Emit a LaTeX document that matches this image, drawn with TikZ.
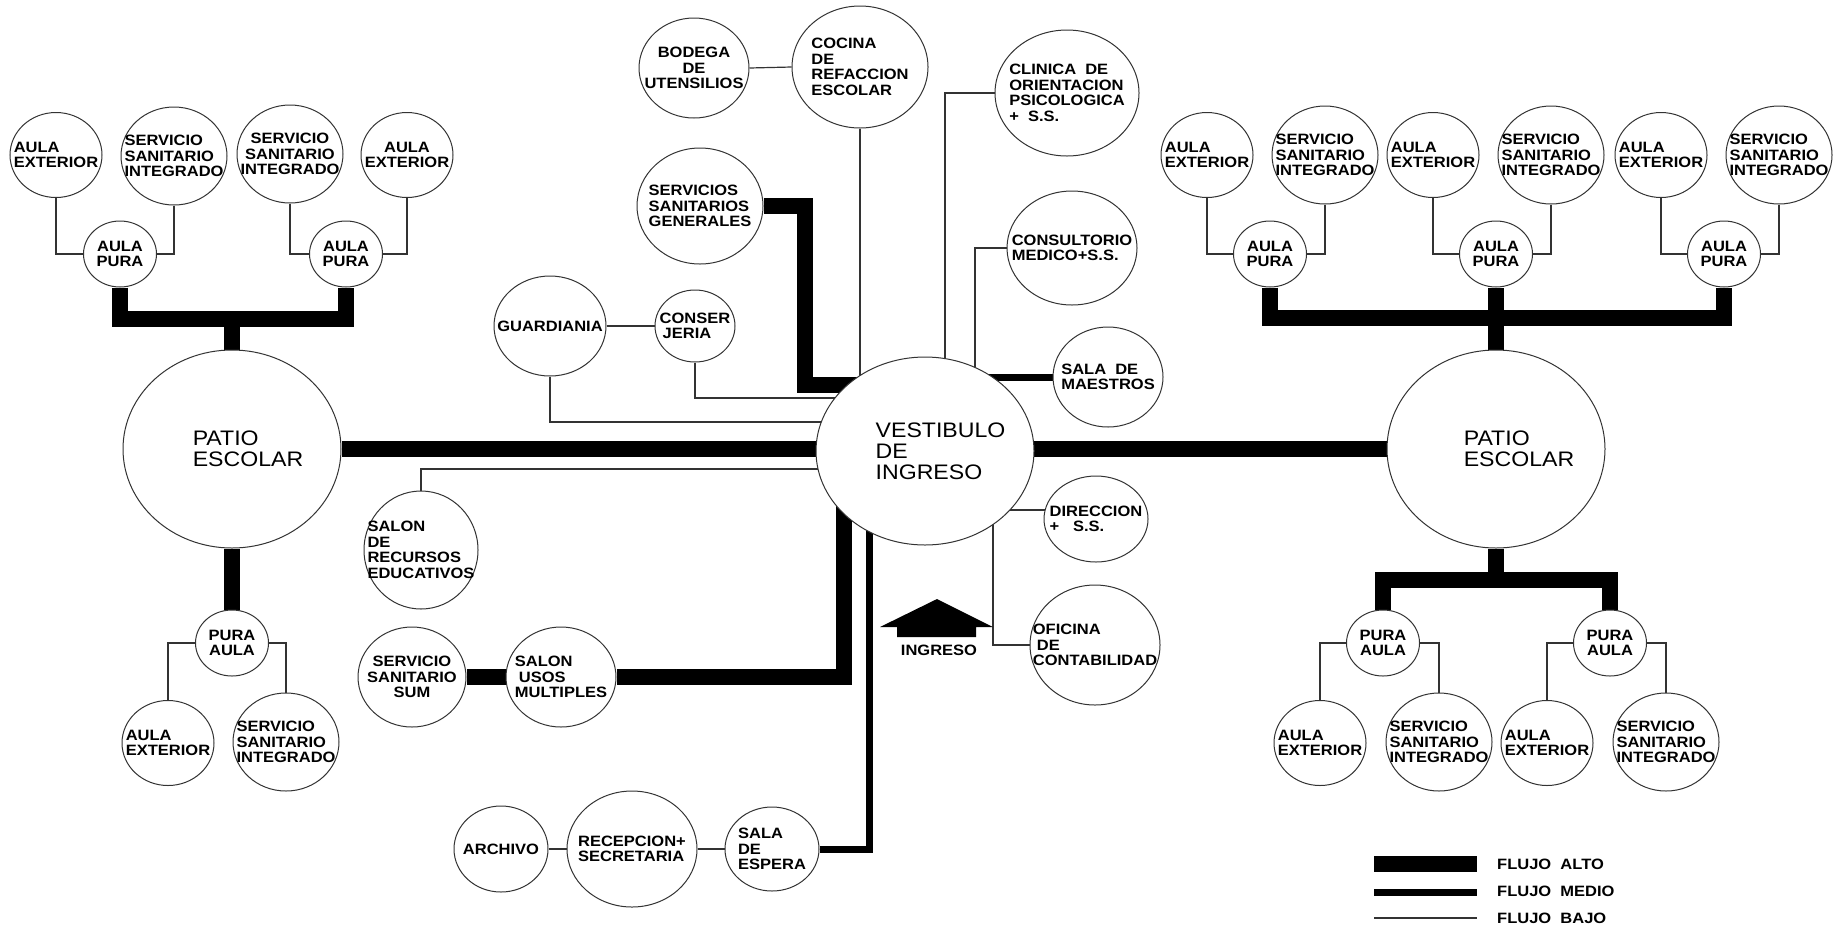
\documentclass[tikz,border=0pt]{standalone}
\usepackage{fontspec}
\newfontfamily\cadfont{Liberation Sans}[FakeStretch=1.1]
\usetikzlibrary{shapes.geometric}
\usetikzlibrary{backgrounds}

\tikzset{
   room/.style 2 args={
      ellipse, draw=black!80, line width=1pt, fill=white,
      inner sep=-40pt, minimum width=#1, minimum height=#2,
      align=center,
      font=\cadfont\bfseries\fontsize{15}{15.5}\selectfont
   },
   ext/.style={room={92}{85}, align=left},
   sani/.style={room={106}{98}},
   pura/.style={room={73}{66}},
   patio/.style={room={218}{198}, align=left, font=\cadfont\fontsize{21}{21}\selectfont},
   alto/.style={line width=16pt},
   medio/.style={line width=7pt},
   bajo/.style={draw=black!80, line width=1.2pt},
   rotulo/.style={inner sep=0pt, font=\cadfont\bfseries\fontsize{15}{15.5}\selectfont}
}

\begin{document}
\begin{tikzpicture}[x=1pt, y=-1pt]
   \path[use as bounding box] (0,0) rectangle (1843,930);

   \node[room={218}{188}, align=left, font=\cadfont\fontsize{21}{21}\selectfont] (vest) at (925,451)
      {\hspace*{31pt}VESTIBULO\\\hspace*{31pt}DE\\\hspace*{31pt}INGRESO};
   \node[patio] (patioL) at (232,449) {\hspace*{32pt}PATIO\\\hspace*{32pt}ESCOLAR};
   \node[patio] (patioR) at (1496,449) {\hspace*{46pt}PATIO\\\hspace*{46pt}ESCOLAR};

   % aulas del patio izquierdo
   \node[ext] (exL1) at (56,155) {AULA\\EXTERIOR};
   \node[sani, align=left] (ssL1) at (174,156) {SERVICIO\\SANITARIO\\INTEGRADO};
   \node[sani] (ssL2) at (290,154) {SERVICIO\\SANITARIO\\INTEGRADO};
   \node[ext, align=center] (exL2) at (407,155) {AULA\\EXTERIOR};
   \node[pura] (apL1) at (120,254) {AULA\\PURA};
   \node[pura] (apL2) at (346,254) {AULA\\PURA};
   \node[pura] (puraL) at (232,643) {PURA\\AULA};
   \node[ext] (exLB) at (168,743) {AULA\\EXTERIOR};
   \node[sani, align=left] (ssLB) at (286,742) {SERVICIO\\SANITARIO\\INTEGRADO};

   % aulas del patio derecho
   \foreach \n/\cx in {1/1270, 2/1496, 3/1724} {
      \node[pura] (apR\n) at (\cx,254) {AULA\\PURA};
      \node[ext] (exR\n) at ({\cx-63},155) {AULA\\EXTERIOR};
      \node[sani, align=left] (ssR\n) at ({\cx+55},155) {SERVICIO\\SANITARIO\\INTEGRADO};
   }
   \foreach \n/\cx in {1/1383, 2/1610} {
      \node[pura] (puraR\n) at (\cx,643) {PURA\\AULA};
      \node[ext] (exRB\n) at ({\cx-63},743) {AULA\\EXTERIOR};
      \node[sani, align=left] (ssRB\n) at ({\cx+56},742) {SERVICIO\\SANITARIO\\INTEGRADO};
   }

   % locales alrededor del vestibulo
   \node[room={110}{100}] (bod) at (694,68) {BODEGA\\DE\\UTENSILIOS};
   \node[room={136}{122}, align=left] (coc) at (860,67) {COCINA\\DE\\REFACCION\\ESCOLAR};
   \node[room={126}{116}, align=left] (sanG) at (700,206) {SERVICIOS\\SANITARIOS\\GENERALES};
   \node[room={112}{100}] (guar) at (550,326) {GUARDIANIA};
   \node[room={80}{72}, align=left] (conj) at (695,326) {CONSER\\\hspace*{3pt}JERIA};
   \node[room={144}{126}, align=left] (clin) at (1067,93) {CLINICA\ \ DE\\ORIENTACION\\PSICOLOGICA\\+\ \ S.S.};
   \node[room={130}{114}, align=left] (cons) at (1072,248) {CONSULTORIO\\MEDICO+S.S.};
   \node[room={110}{100}, align=left] (salaM) at (1108,377) {SALA\ \ DE\\MAESTROS};
   \node[room={104}{86}, align=left] (dir) at (1096,519) {DIRECCION\\+\ \ \ S.S.};
   \node[room={130}{120}, align=left] (ofi) at (1095,645) {OFICINA\\\hspace*{4pt}DE\\CONTABILIDAD};
   \node[room={114}{118}, align=left] (sre) at (421,550) {SALON\\DE\\RECURSOS\\EDUCATIVOS};
   \node[room={108}{100}] (sum) at (412,677) {SERVICIO\\SANITARIO\\SUM};
   \node[room={110}{100}, align=left] (usos) at (561,677) {SALON\\\hspace*{4pt}USOS\\MULTIPLES};
   \node[room={94}{86}] (arc) at (501,849) {ARCHIVO};
   \node[room={130}{116}, align=left] (recep) at (632,849) {RECEPCION+\\SECRETARIA};
   \node[room={94}{84}, align=left] (esp) at (772,849) {SALA\\DE\\ESPERA};

   \coordinate (jL) at (232,319);
   \coordinate (jR) at (1496,318);
   \coordinate (jRB) at (1496,580);
   \coordinate (kSan) at (805,385);

   % flecha de ingreso
   \fill (880,627) -- (937,599) -- (993,627) -- (976,627) -- (976,637) -- (897,637) -- (897,627) -- cycle;
   \node[rotulo] (ingreso) at (939,650) {INGRESO};

   \begin{scope}[on background layer]
      \fill[white] (0,0) rectangle (1843,930);
      % flujo alto
      \draw[alto] (patioL.east) -- (patioL.east -| vest.center);
      \draw[alto] (patioR.west) -- (patioR.west -| vest.center);
      \draw[alto] (apL1.south) |- (jL) -| (apL2.south);
      \draw[alto] (patioL.north) -- (patioL.north |- jL);
      \draw[alto] (patioL.south) -- (puraL.north);
      \draw[alto] (apR1.south) |- (jR) -| (apR3.south);
      \draw[alto] (patioR.north) -- (apR2.south);
      \draw[alto] (patioR.south) -- (jRB);
      \draw[alto] (puraR1.north) |- (jRB) -| (puraR2.north);
      \draw[alto] (sanG.east) -| (kSan) -- (kSan -| vest.center);
      \draw[alto] (sum.east) -- (usos.west);
      \draw[alto] (usos.east) -| ([xshift=-81pt]vest.center);
      % flujo medio
      \draw[medio] (salaM.west) -- (salaM.west -| vest.center);
      \draw[medio] (esp.east) -| ([xshift=-56pt]vest.center);
      % flujo bajo
      \draw[bajo] (exL1.south) |- (apL1.west);
      \draw[bajo] (ssL1.south) |- (apL1.east);
      \draw[bajo] (ssL2.south) |- (apL2.west);
      \draw[bajo] (exL2.south) |- (apL2.east);
      \draw[bajo] (puraL.west) -| (exLB.north);
      \draw[bajo] (puraL.east) -| (ssLB.north);
      \foreach \n in {1,2,3} {
         \draw[bajo] (exR\n.south) |- (apR\n.west);
         \draw[bajo] (ssR\n.south) |- (apR\n.east);
      }
      \foreach \n in {1,2} {
         \draw[bajo] (puraR\n.west) -| (exRB\n.north);
         \draw[bajo] (puraR\n.east) -| (ssRB\n.north);
      }
      \draw[bajo] (bod.east) -- (coc.west);
      \draw[bajo] (coc.south) -- (coc.south |- vest.center);
      \draw[bajo] (clin.west) -| ([xshift=20pt]vest.center);
      \draw[bajo] (cons.west) -| ([xshift=50pt]vest.center);
      \draw[bajo] (guar.east) -- (conj.west);
      \draw[bajo] (guar.south) |- ([yshift=29pt]vest.center);
      \draw[bajo] (conj.south) |- ([yshift=53pt]vest.center);
      \draw[bajo] (sre.north) |- ([yshift=-18pt]vest.center);
      \draw[bajo] (dir.170) -- (dir.170 -| vest.center);
      \draw[bajo] ([xshift=68pt]vest.center) |- (ofi.west);
      \draw[bajo] (arc.east) -- (recep.west);
      \draw[bajo] (recep.east) -- (esp.west);
   \end{scope}

   % leyenda
   \draw[alto] (1374,864) -- (1477,864);
   \draw[medio] (1374,892) -- (1477,892);
   \draw[bajo] (1374,918) -- (1477,918);
   \node[rotulo, anchor=west] (lgAlto) at (1497,864) {FLUJO\ \ ALTO};
   \node[rotulo, anchor=west] (lgMedio) at (1497,891) {FLUJO\ \ MEDIO};
   \node[rotulo, anchor=west] (lgBajo) at (1497,918) {FLUJO\ \ BAJO};
\end{tikzpicture}
\end{document}
